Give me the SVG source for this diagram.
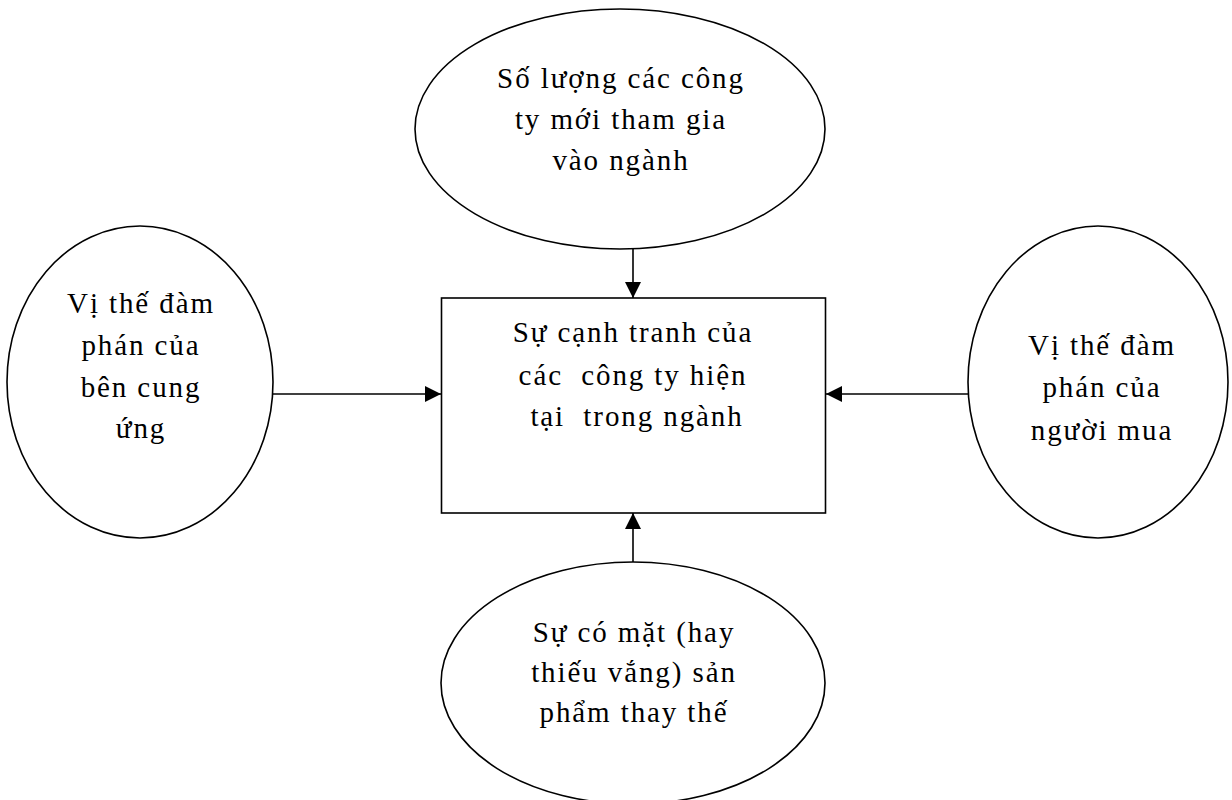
<svg xmlns="http://www.w3.org/2000/svg" width="1232" height="800" viewBox="0 0 1232 800">
<style>
.shape{fill:#fff;stroke:#000;stroke-width:1.6}
.lbl{font-family:"Liberation Serif","Times New Roman",serif;font-size:29px;letter-spacing:1.9px;fill:#000;text-anchor:middle}
.conn{stroke:#000;stroke-width:1.6;fill:none}
</style>
<defs>
<marker id="arr" markerUnits="userSpaceOnUse" markerWidth="16" markerHeight="16" viewBox="0 0 15 15" refX="15" refY="7.5" orient="auto">
<path d="M0,0 L15,7.5 L0,15 Z" fill="#000"/>
</marker>
</defs>
<rect width="1232" height="800" fill="#fff"/>
<g id="connectors">
<line class="conn" x1="633" y1="249" x2="633" y2="298" marker-end="url(#arr)"/>
<line class="conn" x1="273" y1="394" x2="441" y2="394" marker-end="url(#arr)"/>
<line class="conn" x1="968" y1="394" x2="826" y2="394" marker-end="url(#arr)"/>
<line class="conn" x1="633" y1="562" x2="633" y2="513" marker-end="url(#arr)"/>
</g>
<g id="top">
<ellipse class="shape" cx="620" cy="129" rx="205" ry="120"/>
<text class="lbl" x="621" y="88">Số lượng các công</text>
<text class="lbl" x="621" y="129">ty mới tham gia</text>
<text class="lbl" x="621" y="170">vào ngành</text>
</g>
<g id="left">
<ellipse class="shape" cx="140" cy="382" rx="133" ry="156"/>
<text class="lbl" x="141" y="313">Vị thế đàm</text>
<text class="lbl" x="141" y="355">phán của</text>
<text class="lbl" x="141" y="397">bên cung</text>
<text class="lbl" x="141" y="438">ứng</text>
</g>
<g id="center">
<rect class="shape" x="441.5" y="298" width="384" height="215"/>
<text class="lbl" x="633" y="342">Sự cạnh tranh của</text>
<text class="lbl" x="633" y="385" xml:space="preserve">các  công ty hiện</text>
<text class="lbl" x="637" y="426" xml:space="preserve">tại  trong ngành</text>
</g>
<g id="right">
<ellipse class="shape" cx="1098" cy="382" rx="130" ry="156"/>
<text class="lbl" x="1102" y="355">Vị thế đàm</text>
<text class="lbl" x="1102" y="397">phán của</text>
<text class="lbl" x="1102" y="440">người mua</text>
</g>
<g id="bottom">
<ellipse class="shape" cx="633" cy="683" rx="192" ry="121"/>
<text class="lbl" x="634" y="642">Sự có mặt (hay</text>
<text class="lbl" x="634" y="682">thiếu vắng) sản</text>
<text class="lbl" x="634" y="722">phẩm thay thế</text>
</g>
</svg>
